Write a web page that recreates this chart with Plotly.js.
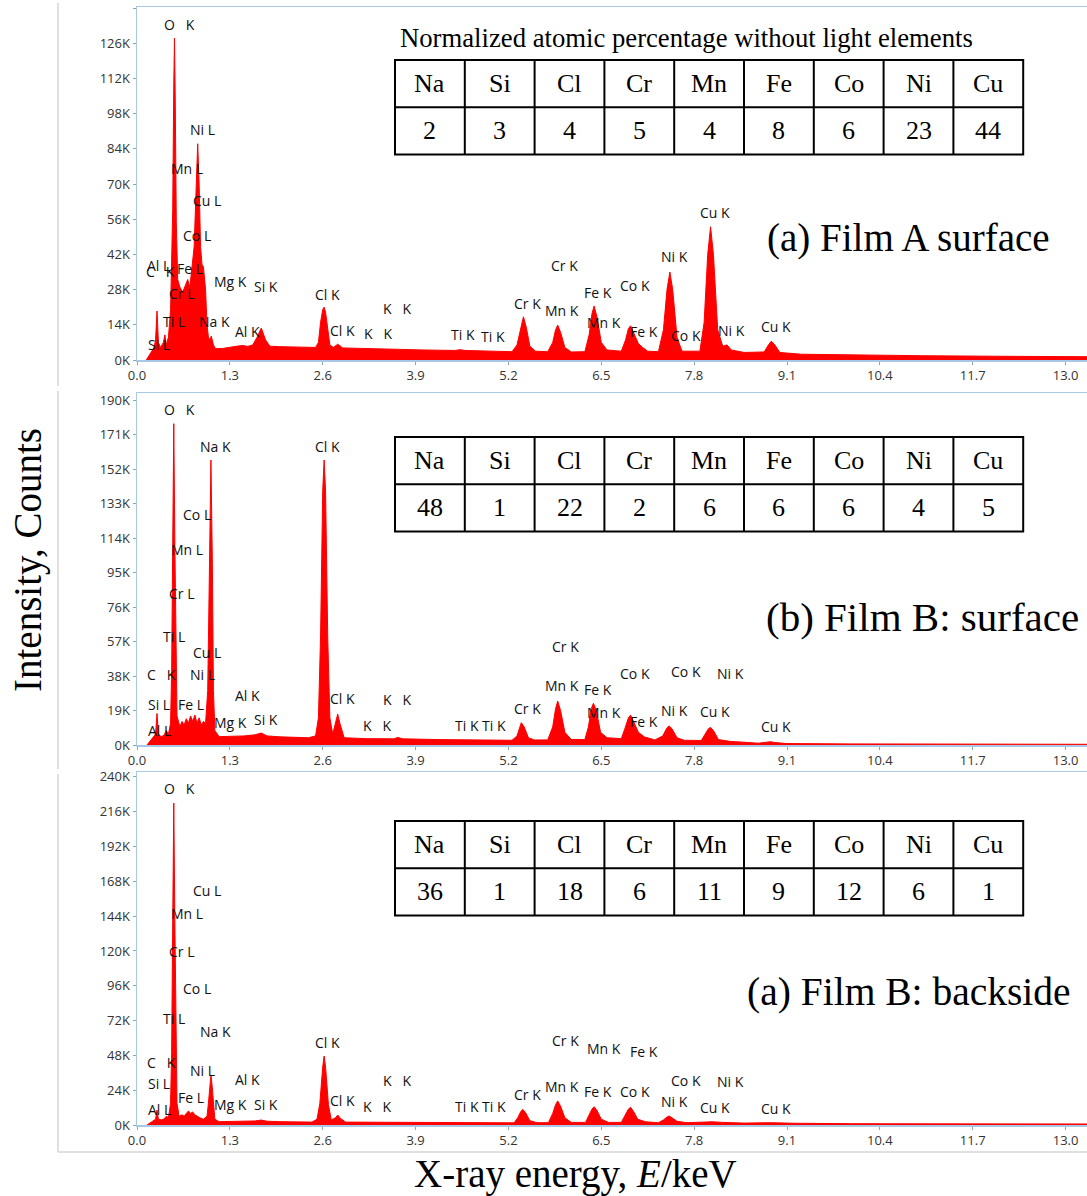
<!DOCTYPE html>
<html><head><meta charset="utf-8">
<script src="https://cdn.plot.ly/plotly-3.0.1.min.js"></script>
<style>html,body{margin:0;padding:0;background:#fff}</style>
</head><body><div id="chart" style="width:1087px;height:1196px"></div>
<script>
// ---------- DATA ----------
// Spectrum (a) Film A surface: energy (keV), counts (thousands)
const energyA = [0.13,0.16,0.20,0.24,0.26,0.28,0.30,0.33,0.37,0.39,0.41,0.44,0.47,0.50,0.515,0.525,0.535,0.55,0.57,0.60,0.64,0.68,0.71,0.74,0.77,0.80,0.83,0.85,0.87,0.89,0.91,0.93,0.96,0.98,1.00,1.02,1.04,1.07,1.10,1.20,1.40,1.48,1.55,1.62,1.68,1.74,1.80,1.86,2.00,2.30,2.50,2.54,2.57,2.60,2.62,2.64,2.67,2.70,2.75,2.81,2.88,3.20,3.60,4.00,4.45,4.52,4.60,5.00,5.25,5.32,5.37,5.41,5.45,5.50,5.58,5.75,5.82,5.86,5.89,5.93,5.99,6.08,6.27,6.33,6.37,6.40,6.44,6.50,6.58,6.78,6.84,6.88,6.91,6.95,7.02,7.08,7.15,7.30,7.37,7.42,7.46,7.50,7.56,7.63,7.88,7.94,7.99,8.03,8.07,8.13,8.20,8.26,8.32,8.50,8.78,8.84,8.88,8.93,9.00,9.30,10.0,11.0,12.0,13.3];
const countsA = [0,1.5,3,5,8,19.5,7,5,7,10,6,9,20,60,110,128,105,55,32,29,27,30,32,29,36,45,70,86,70,45,38,37,28,14,9,8,9.5,6,4.5,4.6,5.5,5.8,5.4,6,9,12.7,8,5.5,5.3,5.0,5.0,7,15,20,21,19,12,6,5,6.3,4.8,4.5,4.3,4.0,3.8,4.1,3.8,3.5,3.3,6,13,17.2,13,5.5,3.5,3.3,7,12,13.9,11,5,3.2,3.3,10,18.5,21.5,17,7,4,3.5,8,12.5,13.6,11,6.5,5,3.5,3.3,12,28,35,28,9,3.5,3.5,15,42,53,42,12,5.5,6,4,3,3.2,6,7.5,6,3,2.3,2.0,1.7,1.5,1.3];

// Spectrum (b) Film B surface
const energyBs = [0.14,0.18,0.22,0.26,0.28,0.30,0.34,0.38,0.41,0.44,0.47,0.485,0.50,0.515,0.53,0.545,0.56,0.60,0.63,0.66,0.69,0.72,0.75,0.78,0.81,0.84,0.87,0.90,0.93,0.96,0.99,1.015,1.035,1.055,1.07,1.09,1.15,1.50,1.65,1.74,1.82,2.00,2.40,2.50,2.54,2.57,2.60,2.62,2.64,2.67,2.70,2.74,2.78,2.81,2.84,2.90,3.20,3.60,3.65,3.72,4.20,4.50,5.25,5.32,5.36,5.38,5.42,5.48,5.56,5.75,5.82,5.86,5.89,5.93,5.99,6.08,6.27,6.32,6.36,6.39,6.43,6.49,6.58,6.78,6.83,6.88,6.91,6.95,7.02,7.10,7.25,7.36,7.42,7.45,7.49,7.56,7.66,7.90,7.96,8.00,8.03,8.07,8.14,8.30,8.70,8.83,8.87,8.92,9.10,10.0,13.3];
const countsBs = [0,2,3.5,6,17.4,6,4.5,5.5,8,6,12,40,110,177,110,40,16,10,13,11,14.5,12,16,13,16.5,12,15,11,13,12,30,100,157,100,30,8,4.6,5,5.6,6.6,5,4.5,4,5,15,60,140,157,140,60,15,6,12,17,12,4,3.5,3.4,4.2,3.4,3,3,2.6,5,10,12.3,10,4,2.8,2.8,10,20,24.2,19,7,3,3,10,20,23,19,7,4,3.5,9,15,16.5,13,7,4.5,2.8,5,9.5,10.5,9,4,2.6,2.5,6,9,9.7,8,3,2,1,1.5,1.8,1.4,0.8,0.6,0.4];

// Spectrum (c) Film B backside
const energyBb = [0.14,0.18,0.22,0.26,0.28,0.30,0.34,0.38,0.41,0.44,0.47,0.485,0.50,0.515,0.53,0.545,0.56,0.59,0.63,0.66,0.69,0.72,0.75,0.78,0.81,0.84,0.88,0.93,0.98,1.00,1.02,1.035,1.05,1.07,1.09,1.15,1.50,1.65,1.74,1.82,2.00,2.45,2.52,2.56,2.60,2.62,2.64,2.68,2.72,2.78,2.81,2.85,2.92,3.60,4.50,5.28,5.33,5.37,5.40,5.44,5.50,5.60,5.76,5.82,5.86,5.89,5.93,5.99,6.08,6.28,6.33,6.37,6.40,6.44,6.50,6.60,6.78,6.84,6.88,6.91,6.95,7.01,7.12,7.30,7.37,7.42,7.45,7.49,7.56,7.70,8.00,8.05,8.20,8.50,8.87,9.20,10.0,13.3];
const countsBb = [0,1.5,2.5,4,10.3,4,3.5,4.2,6,5,15,50,140,222,140,50,15,6,7,6,8,9.7,8,9,7,6,5,4,6,15,30,34.5,28,12,4,2.3,2.5,2.8,3.4,2.6,2.3,2.0,4,15,40,47.6,40,14,3.5,5,6.9,4.5,2,1.8,1.6,1.5,5,9,10.8,8.5,3,1.6,1.6,8,14,16.6,13,5,1.8,1.8,7,11,12.6,10,4,1.8,1.8,7,11,12.2,9.5,4,2.2,1.6,3.5,5.5,6.2,5,2.5,1.6,2,2.2,1.8,1.3,1.6,1.2,0.9,0.7];

// Table data
const elements = ['Na','Si','Cl','Cr','Mn','Fe','Co','Ni','Cu'];
const pctA  = [2,3,4,5,4,8,6,23,44];
const pctBs = [48,1,22,2,6,6,6,4,5];
const pctBb = [36,1,18,6,11,9,12,6,1];

const panelTitles = ['(a) Film A surface','(b) Film B: surface','(a) Film B: backside'];

// Peak labels: [text, energy keV, counts K]
const S = '\u00a0\u00a0\u00a0';
const labelsA = [
['O'+S+'K',0.588,133.6],['Ni L',0.914,91.7],['Mn L',0.695,76.2],['Cu L',0.975,63.4],['Co L',0.835,49.7],
['Al L',0.298,37.4],['C'+S+'K',0.322,35.1],['Fe L',0.742,36.2],['Cr L',0.625,26.5],['Mg K',1.311,31.1],
['Si K',1.80,29.4],['Ti L',0.518,15.2],['Na K',1.078,15.2],['Al K',1.549,11.5],['Si L',0.312,6.0],
['Cl K',2.668,26.2],['Cl K',2.878,11.9],['K'+S+'K',3.646,20.6],['K'+S+'K',3.37,10.6],['Ti K',4.566,10.3],
['Ti K',4.986,9.3],['Cr K',5.99,37.4],['Cr K',5.467,22.5],['Mn K',5.943,19.5],['Fe K',6.456,26.8],
['Mn K',6.535,14.8],['Co K',6.969,29.8],['Fe K',7.095,11.3],['Co K',7.683,9.9],['Ni K',7.529,41.1],
['Ni K',8.32,11.9],['Cu K',8.088,58.6],['Cu K',8.942,13.5]];
const labelsBs = [
['O'+S+'K',0.588,184.9],['Na K',1.101,164.3],['Cl K',2.668,164.3],['Co L',0.835,126.7],['Mn L',0.695,107.8],
['Cr L',0.625,83.5],['Ti L',0.518,60],['Cu L',0.975,50.8],['C'+S+'K',0.345,39.1],['Ni L',0.914,38.9],
['Al K',1.549,27.5],['Si L',0.312,22.4],['Fe L',0.751,22.4],['Mg K',1.311,12.3],['Si K',1.80,14.1],
['Al L',0.312,7.9],['Cl K',2.878,25.7],['K'+S+'K',3.643,25.3],['K'+S+'K',3.363,11],['Ti K',4.613,10.5],
['Ti K',4.996,10.5],['Cr K',5.462,20.2],['Cr K',5.999,54.1],['Mn K',5.943,32.7],['Fe K',6.456,30.8],
['Mn K',6.535,18],['Co K',6.969,39.5],['Fe K',7.099,13.2],['Co K',7.692,40.4],['Ni K',7.529,18.9],
['Ni K',8.312,39.5],['Cu K',8.088,18.3],['Cu K',8.942,10.1]];
const labelsBb = [
['O'+S+'K',0.588,232.2],['Cu L',0.975,161.4],['Mn L',0.695,146],['Cr L',0.625,119.5],['Co L',0.835,94.3],
['Ti L',0.518,73.1],['Na K',1.101,64.4],['Cl K',2.668,56.8],['C'+S+'K',0.345,43],['Ni L',0.914,37.9],
['Al K',1.549,31.5],['Si L',0.312,28.7],['Fe L',0.751,19.1],['Al L',0.312,10.8],['Mg K',1.311,13.8],
['Si K',1.80,14.3],['Cl K',2.878,16.8],['K'+S+'K',3.643,31],['K'+S+'K',3.363,12.6],['Ti K',4.613,12.6],
['Ti K',4.996,12.6],['Cr K',5.462,20.7],['Cr K',5.999,58.1],['Mn K',5.943,26.4],['Mn K',6.535,52.9],
['Fe K',7.099,50.6],['Fe K',6.456,23],['Co K',6.969,23],['Co K',7.692,31],['Ni K',7.529,16.1],
['Ni K',8.312,29.9],['Cu K',8.088,12.2],['Cu K',8.942,11.5]];

// ---------- LAYOUT HELPERS ----------
const W = 1087, H = 1196;
const px = x => x / W;
const py = y => 1 - y / H;

const panels = [
  {e: energyA, c: countsA, top: 7, bot: 360, ymax: 140.4, dtick: 14, labels: labelsA, pct: pctA, tTop: 60, title: panelTitles[0], tx: 909, ty: 238, ts: 39},
  {e: energyBs, c: countsBs, top: 393, bot: 745, ymax: 193.9, dtick: 19, labels: labelsBs, pct: pctBs, tTop: 437, title: panelTitles[1], tx: 922, ty: 617, ts: 41},
  {e: energyBb, c: countsBb, top: 772, bot: 1125, ymax: 243.4, dtick: 24, labels: labelsBb, pct: pctBb, tTop: 821, title: panelTitles[2], tx: 909, ty: 992, ts: 39.5}
];

const axisBlue = '#a9c8e6';
const tickFont = {family: 'Open Sans, Noto Sans, sans-serif', size: 13, color: '#333'};
const labFont = {family: 'Open Sans, Noto Sans, sans-serif', size: 14, color: '#111'};
const serif = 'Liberation Serif, Times New Roman, serif';

const traces = [];
const layout = {
  width: W, height: H, margin: {l: 0, r: 0, t: 0, b: 0},
  paper_bgcolor: '#fff', plot_bgcolor: '#fff', showlegend: false,
  annotations: [], shapes: []
};

panels.forEach((p, i) => {
  const n = i === 0 ? '' : String(i + 1);
  traces.push({
    type: 'scatter', mode: 'lines', x: p.e, y: p.c,
    xaxis: 'x' + n, yaxis: 'y' + n,
    fill: 'tozeroy', fillcolor: '#ff0000',
    line: {color: '#ff0000', width: 1}, hoverinfo: 'skip'
  });
  layout['xaxis' + n] = {
    domain: [px(137), 1], range: [0, 13.3], anchor: 'y' + n,
    tick0: 0, dtick: 1.3, tickformat: '.1f',
    showgrid: false, zeroline: false,
    showline: true, linecolor: axisBlue, linewidth: 1.5, mirror: true,
    ticks: 'outside', ticklen: 3, tickcolor: '#8aa', tickfont: tickFont
  };
  layout['yaxis' + n] = {
    domain: [py(p.bot), py(p.top)], range: [0, p.ymax], anchor: 'x' + n,
    tick0: 0, dtick: p.dtick, ticksuffix: 'K',
    showgrid: false, zeroline: false,
    showline: true, linecolor: axisBlue, linewidth: 1.5,
    ticks: 'outside', ticklen: 3, tickcolor: '#8aa', tickfont: tickFont
  };
  p.labels.forEach(l => {
    layout.annotations.push({
      xref: 'x' + n, yref: 'y' + n, x: l[1], y: l[2], text: l[0],
      showarrow: false, font: labFont, xanchor: 'center', yanchor: 'middle'
    });
  });
  // panel title
  layout.annotations.push({
    xref: 'paper', yref: 'paper', x: px(p.tx), y: py(p.ty), text: p.title,
    showarrow: false, font: {family: serif, size: p.ts, color: '#000'}, xanchor: 'center', yanchor: 'middle'
  });
  // table
  const x0 = 395, cw = 69.8, rh = 47.3;
  const t0 = p.tTop, t1 = t0 + rh, t2 = t0 + 2 * rh;
  const lineS = {color: '#000', width: 2};
  layout.shapes.push({type: 'rect', xref: 'paper', yref: 'paper', x0: px(x0), x1: px(x0 + 9 * cw), y0: py(t2), y1: py(t0), line: lineS, fillcolor: '#fff', layer: 'above'});
  layout.shapes.push({type: 'line', xref: 'paper', yref: 'paper', x0: px(x0), x1: px(x0 + 9 * cw), y0: py(t1), y1: py(t1), line: lineS});
  for (let k = 1; k < 9; k++) {
    layout.shapes.push({type: 'line', xref: 'paper', yref: 'paper', x0: px(x0 + k * cw), x1: px(x0 + k * cw), y0: py(t2), y1: py(t0), line: lineS});
  }
  elements.forEach((el, k) => {
    const cx = px(x0 + (k + 0.5) * cw);
    layout.annotations.push({xref: 'paper', yref: 'paper', x: cx, y: py(t0 + rh / 2), text: el, showarrow: false,
      font: {family: serif, size: 26, color: '#000'}, xanchor: 'center', yanchor: 'middle'});
    layout.annotations.push({xref: 'paper', yref: 'paper', x: cx, y: py(t1 + rh / 2), text: String(p.pct[k]), showarrow: false,
      font: {family: serif, size: 26, color: '#000'}, xanchor: 'center', yanchor: 'middle'});
  });
});

// table caption
layout.annotations.push({xref: 'paper', yref: 'paper', x: px(686), y: py(38),
  text: 'Normalized atomic percentage without light elements', showarrow: false,
  font: {family: serif, size: 26.7, color: '#000'}, xanchor: 'center', yanchor: 'middle'});
// axis titles
layout.annotations.push({xref: 'paper', yref: 'paper', x: px(575), y: py(1174),
  text: 'X-ray energy, <i>E</i>/keV', showarrow: false,
  font: {family: serif, size: 39, color: '#000'}, xanchor: 'center', yanchor: 'middle'});
layout.annotations.push({xref: 'paper', yref: 'paper', x: px(28), y: py(560),
  text: 'Intensity, Counts', showarrow: false, textangle: -90,
  font: {family: serif, size: 39, color: '#000'}, xanchor: 'center', yanchor: 'middle'});

// outer light-gray frame lines
const gray = {color: '#d6d6d6', width: 1.5};
[[3, 386], [391, 769], [774, 1152]].forEach(s => {
  layout.shapes.push({type: 'line', xref: 'paper', yref: 'paper', x0: px(58), x1: px(58), y0: py(s[0]), y1: py(s[1]), line: gray});
});
layout.shapes.push({type: 'line', xref: 'paper', yref: 'paper', x0: px(58), x1: 1, y0: py(1152), y1: py(1152), line: gray});

Plotly.newPlot('chart', traces, layout, {staticPlot: true, displayModeBar: false});
</script>
</body></html>
